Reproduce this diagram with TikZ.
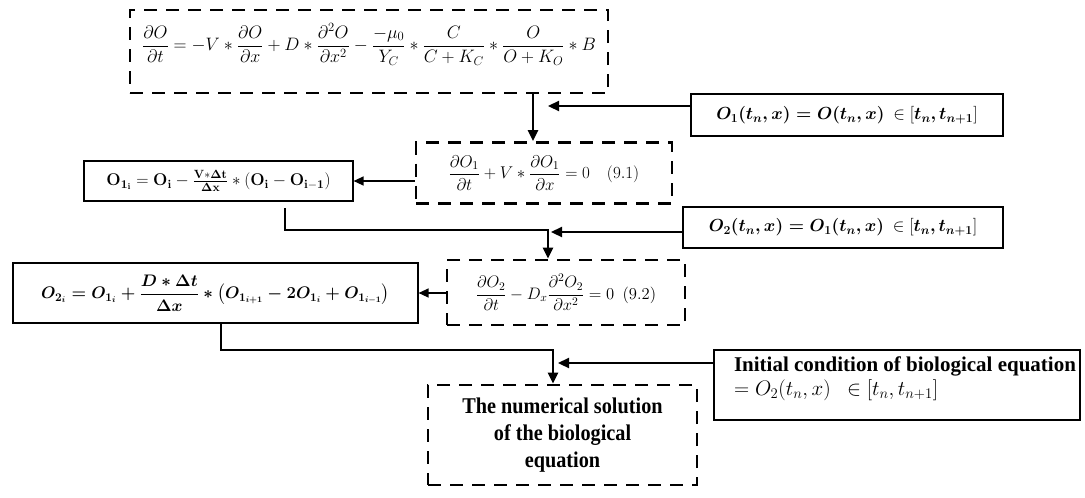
\RequirePackage{fix-cm}
\documentclass[tikz,border=0pt]{standalone}
\usepackage{amsmath}
\usepackage{bm}
\usepackage[no-math]{fontspec}
\setmainfont{Liberation Serif}
\newfontfamily\narrowserif[FakeStretch=0.9]{Liberation Serif}
\usetikzlibrary{arrows.meta}

\tikzset{
  dashbox/.style={draw, line width=2.8pt, dash pattern=on 13pt off 9pt, inner sep=0pt},
  thinbox/.style={draw, line width=1.2pt, inner sep=0pt},
  thickbox/.style={draw, line width=2.8pt, inner sep=0pt},
  flow/.style={line width=2.3pt, -{Triangle[length=11pt,width=10pt]}},
  thinflow/.style={line width=1.3pt, -{Triangle[length=10pt,width=9pt]}},
}

\begin{document}
\begin{tikzpicture}[x=1pt,y=-1pt]
        \useasboundingbox (0,0) rectangle (1085,498);
        % main model equation
        \node[dashbox, minimum width=478pt, minimum height=83pt,
          font=\fontsize{18}{21}\selectfont] (main) at (369,51.5)
          {\raisebox{7pt}[\height][\depth]{$\dfrac{\partial O}{\partial t} = -V*\dfrac{\partial O}{\partial x}
            + D*\dfrac{\partial^2 O}{\partial x^2} - \dfrac{-\mu_0}{Y_C}*\dfrac{C}{C+K_C}*\dfrac{O}{O+K_O}*B$}};
        % step 1: advection
        \node[thickbox, minimum width=312pt, minimum height=42pt,
          font=\fontsize{17.5}{20}\selectfont] (cond1) at (847,115)
          {{\boldmath$O_1(t_n,x) = O(t_n,x)$}\ \ $\in [\bm{t_n, t_{n+1}}]$};
        \node[dashbox, minimum width=256pt, minimum height=61pt,
          font=\fontsize{17}{20}\selectfont] (adv) at (544,173)
          {$\dfrac{\partial O_1}{\partial t} + V*\dfrac{\partial O_1}{\partial x} = 0\quad (9.1)$};
        \node[thinbox, minimum width=269pt, minimum height=40pt,
          font=\fontsize{17}{20}\selectfont] (advnum) at (218.5,181)
          {$\mathbf{O_{1_i} = O_i - \frac{V*\Delta t}{\Delta x} * (O_i - O_{i-1})}$};
        % step 2: diffusion
        \node[thickbox, minimum width=320pt, minimum height=41pt,
          font=\fontsize{17.5}{20}\selectfont] (cond2) at (843,227.5)
          {{\boldmath$O_2(t_n,x) = O_1(t_n,x)$}\ \ $\in [\bm{t_n, t_{n+1}}]$};
        \node[dashbox, minimum width=238pt, minimum height=65pt,
          font=\fontsize{16.6}{20}\selectfont] (dif) at (566,292.5)
          {$\dfrac{\partial O_2}{\partial t} - D_x\dfrac{\partial^2 O_2}{\partial x^2} = 0\ \ (9.2)$};
        \node[thinbox, minimum width=405pt, minimum height=60pt,
          font=\fontsize{16.7}{20}\selectfont] (difnum) at (215.5,293)
          {{\boldmath$O_{2_i} = O_{1_i} + \dfrac{D*\Delta t}{\Delta x} * \bigl(O_{1_{i+1}} - 2O_{1_i} + O_{1_{i-1}}\bigr)$}};
        % step 3: biology
        \node[thickbox, minimum width=366pt, minimum height=70pt, align=left,
          font=\fontsize{21}{24}\selectfont] (init) at (897,385)
          {\hspace*{16pt}\raisebox{6pt}[\height][\depth]{\begin{tabular}{@{}l@{}}
            \textbf{Initial condition of biological equation}\\
            $= O_2(t_n,x)\ \ \in [t_n, t_{n+1}]$\end{tabular}}};
        \node[dashbox, minimum width=269pt, minimum height=100pt, align=center,
          font=\narrowserif\fontsize{22.5}{27}\selectfont\bfseries] (result) at (562.5,435)
          {The numerical solution\\of the biological\\equation};
        % junctions and ends of the flow lines
        \coordinate (j1) at (533,106);
        \coordinate (e1) at (548,106);
        \coordinate (k2) at (285,208);
        \coordinate (j2) at (548,230);
        \coordinate (e2) at (551,232);
        \coordinate (j3) at (553,350);
        \coordinate (e3) at (558,363);
        \draw[flow] (main.south -| j1) -- (adv.north -| j1);
        \draw[flow] (cond1.west |- e1) -- (e1);
        \draw[thinflow] (advnum.east -| adv.west) -- (advnum.east);
        \draw[flow] (k2) |- (j2) -- (dif.north -| j2);
        \draw[flow] (cond2.west |- e2) -- (e2);
        \draw[thinflow] (difnum.east -| dif.west) -- (difnum.east);
        \draw[flow] (difnum.south -| 221,0) |- (j3) -- (result.north -| j3);
        \draw[flow] (init.west |- e3) -- (e3);
\end{tikzpicture}
\end{document}
